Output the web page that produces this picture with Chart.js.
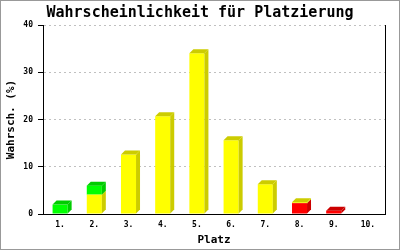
<!DOCTYPE html>
<html>
<head>
<meta charset="utf-8">
<script src="https://cdn.jsdelivr.net/npm/chart.js@4"></script>
<style>
html,body{margin:0;padding:0;background:#fff;}
#wrap{width:400px;height:250px;position:relative;}
</style>
</head>
<body>
<div id="wrap"><canvas id="c" width="400" height="250"></canvas></div>
<script>
const categories = ['1.', '2.', '3.', '4.', '5.', '6.', '7.', '8.', '9.', '10.'];
const redValues    = [0, 0, 0, 0, 0, 0, 0, 2.3, 0.7, 0];
const yellowValues = [0, 4.1, 12.6, 20.7, 34.0, 15.6, 6.3, 0.2, 0, 0];
const greenValues  = [2.0, 1.9, 0, 0, 0, 0, 0, 0, 0, 0];
const yTicks = [0, 10, 20, 30, 40];

const DEPTH = 4;
const mono = "'DejaVu Sans Mono', 'Liberation Mono', monospace";

const bar3d = {
  id: 'bar3d',
  afterDatasetsDraw(chart) {
    const ctx = chart.ctx;
    const n = chart.data.labels.length;
    ctx.save();
    for (let i = 0; i < n; i++) {
      let topEl = null, topDs = null;
      chart.data.datasets.forEach((ds, di) => {
        const meta = chart.getDatasetMeta(di);
        const el = meta.data[i];
        if (!el || !ds.data[i]) return;
        const p = el.getProps(['x', 'y', 'base', 'width'], true);
        const r = p.x + p.width / 2;
        ctx.fillStyle = ds.sideColor;
        ctx.beginPath();
        ctx.moveTo(r, p.y);
        ctx.lineTo(r + DEPTH, p.y - DEPTH);
        ctx.lineTo(r + DEPTH, p.base - DEPTH);
        ctx.lineTo(r, p.base);
        ctx.closePath();
        ctx.fill();
        topEl = p; topDs = ds;
      });
      if (topEl) {
        const l = topEl.x - topEl.width / 2, r = topEl.x + topEl.width / 2;
        ctx.fillStyle = topDs.sideColor;
        ctx.beginPath();
        ctx.moveTo(l, topEl.y);
        ctx.lineTo(l + DEPTH, topEl.y - DEPTH);
        ctx.lineTo(r + DEPTH, topEl.y - DEPTH);
        ctx.lineTo(r, topEl.y);
        ctx.closePath();
        ctx.fill();
      }
    }
    ctx.restore();
  }
};

const frame = {
  id: 'frame',
  beforeDraw(chart) {
    const ctx = chart.ctx;
    ctx.save();
    ctx.fillStyle = '#fff';
    ctx.fillRect(0, 0, chart.width, chart.height);
    ctx.restore();
  },
  afterDraw(chart) {
    const ctx = chart.ctx;
    ctx.save();
    ctx.strokeStyle = '#999999';
    ctx.lineWidth = 1;
    ctx.strokeRect(0.5, 0.5, chart.width - 1, chart.height - 1);
    ctx.restore();
  }
};

new Chart(document.getElementById('c'), {
  type: 'bar',
  data: {
    labels: categories,
    datasets: [
      { label: 'rot', data: redValues, backgroundColor: '#ff0000', sideColor: '#cc0000' },
      { label: 'gelb', data: yellowValues, backgroundColor: '#ffff00', sideColor: '#cccc00' },
      { label: 'grün', data: greenValues, backgroundColor: '#00ff00', sideColor: '#00cc00' }
    ]
  },
  options: {
    responsive: false,
    animation: false,
    devicePixelRatio: 1,
    layout: { padding: 0 },
    datasets: { bar: { barPercentage: 0.44, categoryPercentage: 1, borderWidth: 0 } },
    plugins: {
      legend: { display: false },
      tooltip: { enabled: false },
      title: {
        display: true,
        text: 'Wahrscheinlichkeit für Platzierung',
        color: '#000',
        font: { family: mono, size: 15, weight: 'bold', lineHeight: 1.2 },
        padding: { top: 4, bottom: 3 }
      }
    },
    scales: {
      x: {
        stacked: true,
        grid: { display: false, drawTicks: false },
        border: { display: true, color: '#000', width: 1 },
        ticks: { color: '#000', font: { family: mono, size: 8, weight: 'bold' }, padding: 6, maxRotation: 0, autoSkip: false },
        title: { display: true, text: 'Platz', color: '#000', font: { family: mono, size: 11, weight: 'bold', lineHeight: 1.2 }, padding: { top: 0, bottom: 3 } },
        afterFit(s) { s.height = 36; }
      },
      y: {
        stacked: true,
        min: 0, max: 40,
        afterBuildTicks(s) { s.ticks = yTicks.map(v => ({ value: v })); },
        grid: { color: '#c0c0c0', tickColor: '#000', tickBorderDash: [], tickLength: 5, drawTicks: true },
        border: { display: true, color: '#000', width: 1, dash: [2, 3] },
        ticks: { color: '#000', font: { family: mono, size: 8, weight: 'bold' }, padding: 5 },
        title: { display: true, text: 'Wahrsch. (%)', color: '#000', font: { family: mono, size: 11, weight: 'bold', lineHeight: 1.2 }, padding: { top: 5, bottom: 0 } },
        afterFit(s) { s.width = 43; }
      },
      y2: {
        position: 'right',
        min: 0, max: 40,
        grid: { display: false, drawOnChartArea: false, drawTicks: false },
        border: { display: true, color: '#000', width: 1 },
        ticks: { display: false },
        afterFit(s) { s.width = 15; }
      }
    }
  },
  plugins: [frame, bar3d]
});
</script>
</body>
</html>
